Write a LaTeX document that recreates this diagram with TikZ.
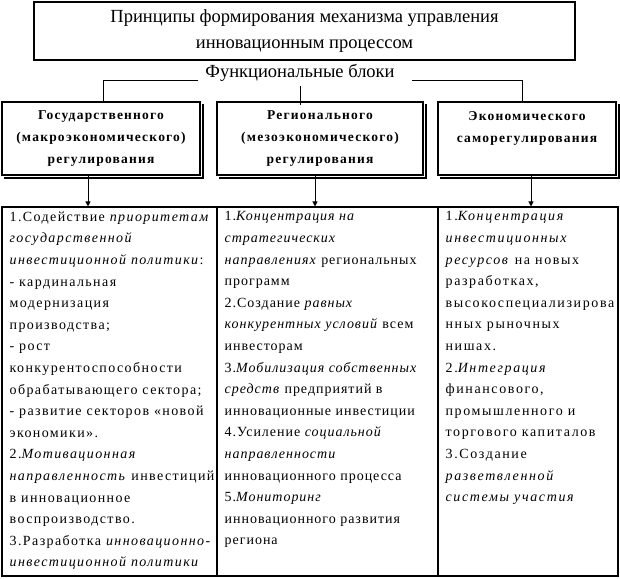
\documentclass[tikz,border=0pt]{standalone}
\usepackage{fontspec}
\setmainfont{Liberation Serif}
\newfontfamily\headfont[LetterSpace=9]{Liberation Serif}
\newfontfamily\bodyfonta[LetterSpace=10]{Liberation Serif}
\newfontfamily\bodyfontb[LetterSpace=7]{Liberation Serif}
\newfontfamily\bodyfontc[LetterSpace=11.5]{Liberation Serif}
\usetikzlibrary{arrows.meta}
\begin{document}
\begin{tikzpicture}[x=1pt,y=-1pt,
  frame/.style={draw,line width=1.1pt,inner sep=0pt},
  hbox/.style={frame,fill=white,minimum height=73pt,align=center,
    font=\headfont\bfseries\fontsize{13.5}{22}\selectfont},
  cbox/.style={frame,minimum height=369pt},
  ctext/.style={anchor=north west,inner sep=0pt,align=left},
  link/.style={line width=1pt},
  arr/.style={line width=1pt,-{Triangle[width=5pt,length=5pt]}},
  shade/.style={line width=2pt}]
\useasboundingbox[fill=white] (0,0) rectangle (620,578);

% title
\node[frame,minimum width=541pt,minimum height=58pt,align=center,
  font=\fontsize{18.5}{26}\selectfont] (t) at (304.5,31)
  {Принципы формирования механизма управления\\инновационным процессом};
\node[inner sep=0pt,font=\fontsize{18.5}{20}\selectfont] (fb) at (300,73) {Функциональные блоки};

% upper boxes
\node[hbox,minimum width=198pt] (g1) at (101,138.5)
  {Государственного\\(макроэкономического)\\регулирования};
\node[hbox,minimum width=206pt] (g2) at (320,138.5)
  {Регионального\\(мезоэкономического)\\регулирования};
\node[hbox,minimum width=178pt] (g3) at (527,138.5)
  {Экономического\\саморегулирования\\\mbox{}};

% shadows
\foreach \g in {g1,g2,g3}{
  \draw[shade] ([shift={(2.5pt,-3pt)}]\g.north east) -- ([shift={(2.5pt,-2.5pt)}]\g.south east)
    -- ([shift={(3pt,-2.5pt)}]\g.south west);
}

% connectors from block label
\draw[link] ([shift={(-7pt,-7pt)}]fb.west) -| ([xshift=2pt]g1.north);
\draw[link] ([shift={(17pt,-7pt)}]fb.east) -| ([xshift=-5pt]g3.north);
\draw[link] ([yshift=-4pt]fb.south) -- ([yshift=-4pt]fb.south |- g2.north);

% content boxes
\node[cbox,minimum width=215pt] (c1) at (109.5,391.5) {};
\node[cbox,minimum width=221pt] (c2) at (327.5,391.5) {};
\node[cbox,minimum width=180pt] (c3) at (528,391.5) {};

% arrows
\coordinate (a1) at ([xshift=-13pt]g1.south);
\coordinate (a2) at ([xshift=-5pt]g2.south);
\coordinate (a3) at ([xshift=4pt]g3.south);
\draw[arr] (a1) -- (a1 |- c1.north);
\draw[arr] (a2) -- (a2 |- c2.north);
\draw[arr] (a3) -- (a3 |- c3.north);

% texts
\node[ctext,font=\bodyfonta\fontsize{14}{21.6}\selectfont] (x1) at ([shift={(8pt,-5pt)}]c1.north west) {%
1.Содействие \textit{приоритетам}\\
\textit{государственной}\\
\textit{инвестиционной политики}:\\
- кардинальная\\
модернизация\\
производства;\\
- рост\\
конкурентоспособности\\
обрабатывающего сектора;\\
- развитие секторов «новой\\
экономики».\\
2.\textit{Мотивационная}\\
\textit{направленность} инвестиций\\
в инновационное\\
воспроизводство.\\
3.Разработка \textit{инновационно-}\\
\textit{инвестиционной политики}};

\node[ctext,font=\bodyfontb\fontsize{14}{21.6}\selectfont] (x2) at ([shift={(8pt,-5pt)}]c2.north west) {%
1.\textit{Концентрация на}\\
\textit{стратегических}\\
\textit{направлениях} региональных\\
программ\\
2.Создание \textit{равных}\\
\textit{конкурентных условий} всем\\
инвесторам\\
3.\textit{Мобилизация собственных}\\
\textit{средств} предприятий в\\
инновационные инвестиции\\
4.Усиление \textit{социальной}\\
\textit{направленности}\\
инновационного процесса\\
5.\textit{Мониторинг}\\
инновационного развития\\
региона};

\node[ctext,font=\bodyfontc\fontsize{14}{21.6}\selectfont] (x3) at ([shift={(8pt,-5pt)}]c3.north west) {%
1.\textit{Концентрация}\\
\textit{инвестиционных}\\
\textit{ресурсов} на новых\\
разработках,\\
высокоспециализирова\\
нных рыночных\\
нишах.\\
2.\textit{Интеграция}\\
финансового,\\
промышленного и\\
торгового капиталов\\
3.Создание\\
\textit{разветвленной}\\
\textit{системы участия}};
\end{tikzpicture}
\end{document}
